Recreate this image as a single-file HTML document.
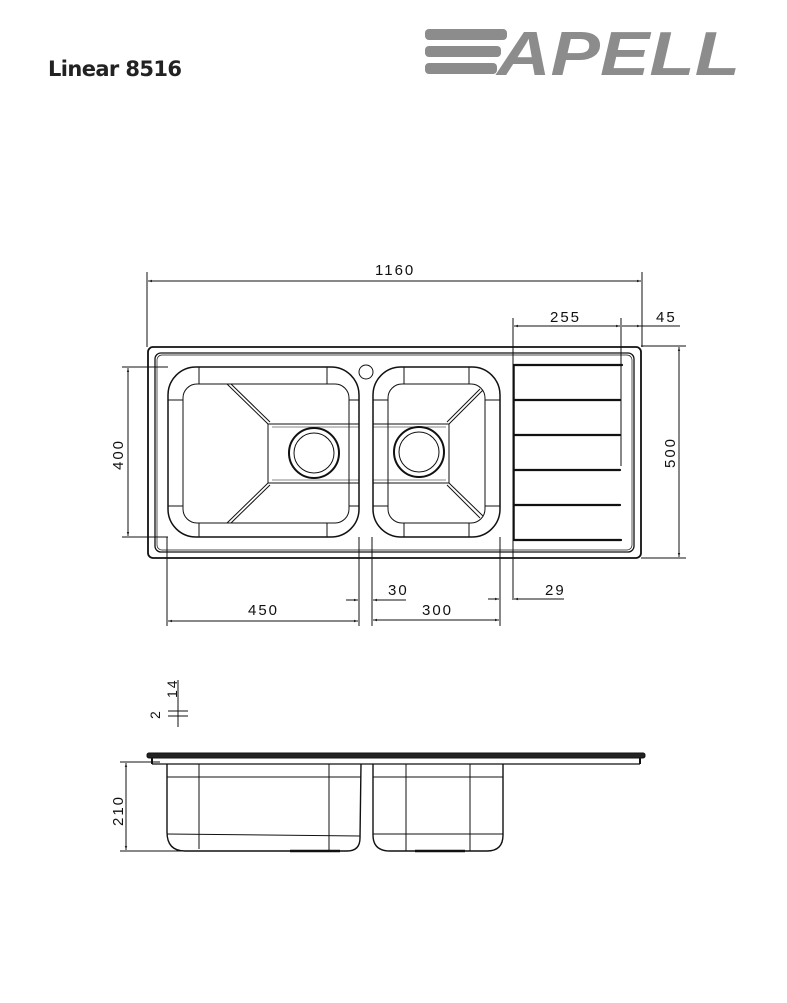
<!DOCTYPE html>
<html><head><meta charset="utf-8"><style>
html,body{margin:0;padding:0;background:#fff;}
svg{display:block;}
text{font-family:"Liberation Sans",sans-serif;}
</style></head><body>
<svg width="787" height="1003" viewBox="0 0 787 1003" xmlns="http://www.w3.org/2000/svg">
<defs>
<marker id="a" viewBox="0 0 10 10" refX="10" refY="5" markerWidth="6" markerHeight="4" orient="auto-start-reverse"><path d="M0,2 L10,5 L0,8z" fill="#222"/></marker>
</defs>
<text x="48" y="76" font-size="21" font-weight="bold" fill="#222" style="font-family:'DejaVu Sans',sans-serif" textLength="134">Linear 8516</text>
<!-- logo -->
<g fill="#8c8c8c">
<rect x="425" y="29" width="82" height="11" rx="4"/>
<rect x="425" y="46" width="76" height="11" rx="4"/>
<rect x="425" y="63" width="72" height="11" rx="4"/>
<text x="497" y="75" font-size="62" font-weight="bold" font-style="italic" textLength="243" lengthAdjust="spacingAndGlyphs">APELL</text>
</g>
<g fill="none" stroke="#111" stroke-width="1">
<line x1="147" y1="272" x2="147" y2="347"/><line x1="642" y1="272" x2="642" y2="347"/>
<line x1="148" y1="281" x2="641" y2="281" marker-start="url(#a)" marker-end="url(#a)"/>
<line x1="513" y1="318" x2="513" y2="600"/>
<line x1="621" y1="318" x2="621" y2="466"/>
<line x1="514" y1="326" x2="620" y2="326" marker-start="url(#a)" marker-end="url(#a)"/>
<line x1="622" y1="326" x2="641" y2="326" marker-end="url(#a)"/>
<line x1="641" y1="326" x2="680" y2="326"/>
<line x1="641" y1="346" x2="686" y2="346"/><line x1="641" y1="558" x2="686" y2="558"/>
<line x1="679" y1="347" x2="679" y2="557" marker-start="url(#a)" marker-end="url(#a)"/>
<line x1="122" y1="367" x2="168" y2="367"/><line x1="122" y1="537" x2="168" y2="537"/>
<line x1="128" y1="368" x2="128" y2="536" marker-start="url(#a)" marker-end="url(#a)"/>
<line x1="167" y1="537" x2="167" y2="626"/>
<line x1="359" y1="537" x2="359" y2="626"/>
<line x1="372" y1="537" x2="372" y2="626"/>
<line x1="500" y1="537" x2="500" y2="626"/>
<line x1="168" y1="621" x2="358" y2="621" marker-start="url(#a)" marker-end="url(#a)"/>
<line x1="373" y1="620" x2="499" y2="620" marker-start="url(#a)" marker-end="url(#a)"/>
<line x1="346" y1="600" x2="358" y2="600" marker-end="url(#a)"/>
<line x1="406" y1="600" x2="373" y2="600" marker-end="url(#a)"/>
<line x1="488" y1="599" x2="499" y2="599" marker-end="url(#a)"/>
<line x1="564" y1="599" x2="514" y2="599" marker-end="url(#a)"/>
</g>
<g font-size="15" fill="#111" letter-spacing="2">
<text x="375" y="275">1160</text>
<text x="550" y="322">255</text>
<text x="656" y="322">45</text>
<text x="248" y="615">450</text>
<text x="422" y="615">300</text>
<text x="388" y="595">30</text>
<text x="545" y="595">29</text>
<text transform="translate(675,468) rotate(-90)">500</text>
<text transform="translate(123,470) rotate(-90)">400</text>
<text transform="translate(123,826) rotate(-90)">210</text>
<text transform="translate(177,698) rotate(-90)" font-size="14">14</text>
<text transform="translate(160,719) rotate(-90)" font-size="14">2</text>
</g>
<g fill="none" stroke="#111">
<rect x="148" y="347" width="493" height="211" rx="5" stroke-width="1.8"/>
<rect x="155" y="353" width="479" height="199" rx="6" stroke-width="1.3"/>
<rect x="157" y="355" width="475" height="195" rx="5" stroke-width="0.7"/>
<rect x="168" y="367" width="191" height="170" rx="28" stroke-width="1.5"/>
<rect x="183" y="384" width="166" height="139" rx="14" stroke-width="1"/>
<line x1="199" y1="367" x2="199" y2="384"/><line x1="327" y1="367" x2="327" y2="384"/>
<line x1="199" y1="523" x2="199" y2="537"/><line x1="327" y1="523" x2="327" y2="537"/>
<line x1="168" y1="400" x2="183" y2="400"/><line x1="168" y1="506" x2="183" y2="506"/>
<line x1="349" y1="400" x2="359" y2="400"/><line x1="349" y1="506" x2="359" y2="506"/>
<rect x="268" y="424" width="91" height="59"/>
<line x1="272" y1="427" x2="359" y2="427" stroke-width="0.6"/>
<line x1="272" y1="480" x2="359" y2="480" stroke-width="0.6"/>
<line x1="227" y1="384" x2="268" y2="424"/><line x1="231" y1="384" x2="270" y2="422"/>
<line x1="227" y1="523" x2="268" y2="483"/><line x1="231" y1="523" x2="270" y2="485"/>
<circle cx="314" cy="453" r="25" stroke-width="2"/>
<circle cx="314" cy="453" r="20" stroke-width="1"/>
<circle cx="366" cy="372" r="7"/>
<rect x="373" y="367" width="127" height="170" rx="28" stroke-width="1.5"/>
<rect x="388" y="384" width="97" height="139" rx="14" stroke-width="1"/>
<line x1="404" y1="367" x2="404" y2="384"/><line x1="469" y1="367" x2="469" y2="384"/>
<line x1="404" y1="523" x2="404" y2="537"/><line x1="469" y1="523" x2="469" y2="537"/>
<line x1="373" y1="400" x2="388" y2="400"/><line x1="373" y1="506" x2="388" y2="506"/>
<line x1="485" y1="400" x2="500" y2="400"/><line x1="485" y1="506" x2="500" y2="506"/>
<rect x="373" y="424" width="76" height="59"/>
<line x1="373" y1="427" x2="446" y2="427" stroke-width="0.6"/>
<line x1="373" y1="480" x2="446" y2="480" stroke-width="0.6"/>
<line x1="449" y1="424" x2="483" y2="390"/><line x1="447" y1="422" x2="480" y2="389"/>
<line x1="449" y1="483" x2="483" y2="516"/><line x1="447" y1="485" x2="480" y2="518"/>
<circle cx="419" cy="452" r="25" stroke-width="2"/>
<circle cx="419" cy="452" r="20" stroke-width="1"/>
<line x1="514" y1="365" x2="514" y2="540" stroke-width="1.5"/>
<g stroke-width="2.2" stroke-linecap="round">
<line x1="514" y1="365" x2="622" y2="365"/>
<line x1="514" y1="400" x2="620" y2="400"/>
<line x1="514" y1="435" x2="620" y2="435"/>
<line x1="514" y1="470" x2="620" y2="470"/>
<line x1="514" y1="505" x2="620" y2="505"/>
<line x1="514" y1="540" x2="621" y2="540"/>
</g>
</g>
<!-- side view -->
<g fill="none" stroke="#111">
<line x1="178" y1="680" x2="178" y2="727"/>
<line x1="168" y1="711" x2="188" y2="711"/><line x1="168" y1="716" x2="188" y2="716"/>
<rect x="147" y="753" width="498" height="5" rx="2" fill="#222" stroke-width="1"/>
<line x1="152" y1="758" x2="152" y2="764" stroke-width="2"/>
<line x1="640" y1="758" x2="640" y2="764" stroke-width="2"/>
<line x1="152" y1="764" x2="640" y2="764" stroke-width="1.2"/>
<line x1="120" y1="762" x2="160" y2="762"/><line x1="120" y1="851" x2="260" y2="851"/>
<line x1="126" y1="763" x2="126" y2="850" marker-start="url(#a)" marker-end="url(#a)"/>
<path d="M167,764 L167,832 Q167,851 185,851 L347,851 Q360,851 360,838 L361,764" stroke-width="1.4"/>
<path d="M373,764 L373,835 Q373,851 390,851 L487,851 Q503,851 503,835 L503,764" stroke-width="1.4"/>
<line x1="167" y1="777" x2="361" y2="777"/><line x1="373" y1="777" x2="503" y2="777"/>
<line x1="167" y1="834" x2="360" y2="836"/><line x1="373" y1="834" x2="503" y2="834"/>
<line x1="199" y1="764" x2="199" y2="849"/><line x1="329" y1="764" x2="329" y2="851"/>
<line x1="406" y1="764" x2="406" y2="851"/><line x1="470" y1="764" x2="470" y2="851"/>
<line x1="290" y1="851" x2="340" y2="851" stroke-width="2.5"/>
<line x1="415" y1="851" x2="465" y2="851" stroke-width="2.5"/>
</g>
</svg>
</body></html>
